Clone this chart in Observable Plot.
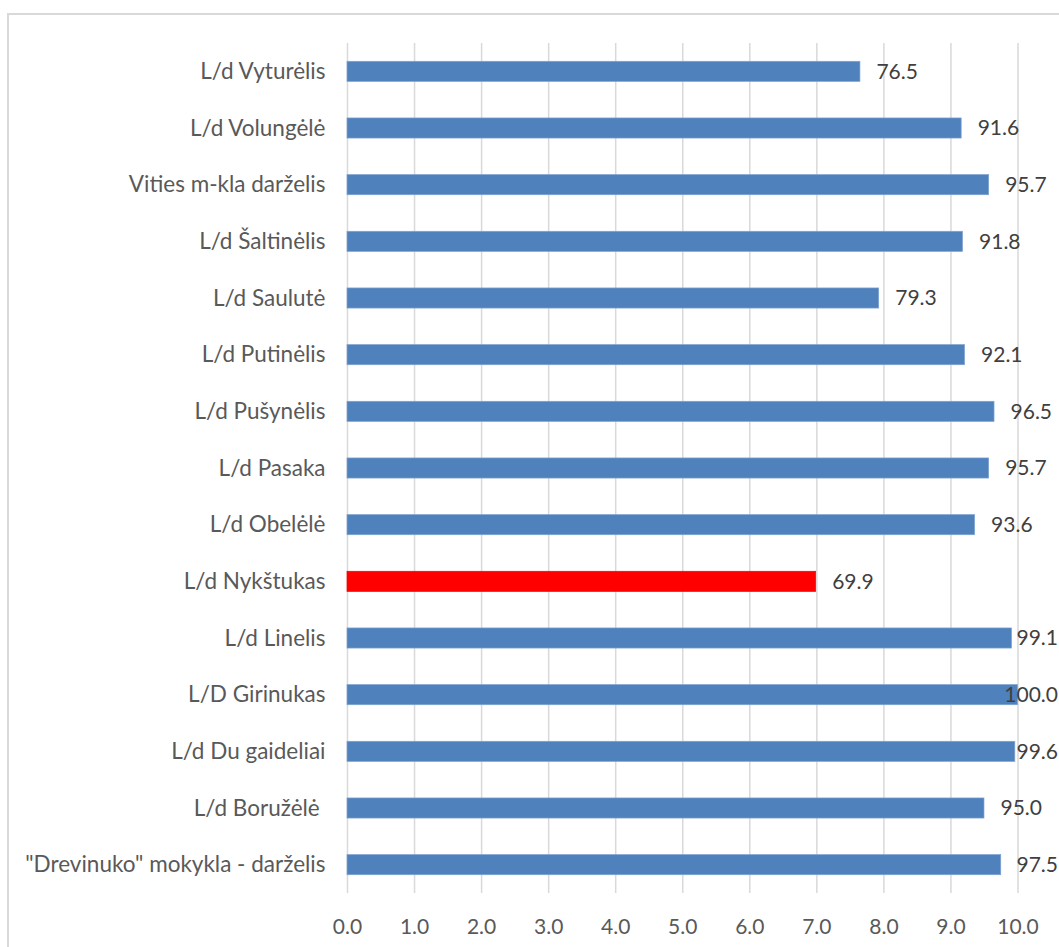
<!DOCTYPE html>
<html>
<head>
<meta charset="utf-8">
<script src="https://cdn.jsdelivr.net/npm/d3@7"></script>
<script src="https://cdn.jsdelivr.net/npm/@observablehq/plot@0.6"></script>
<style>
  html, body { margin: 0; padding: 0; background: #fff; overflow: hidden; }
  #wrap { position: relative; width: 1059px; height: 947px; overflow: hidden; }
  #frame { position: absolute; left: 7px; top: 13px; width: 1200px; height: 1100px;
           border: 2px solid #d9d9d9; box-sizing: border-box; }
  #chart { position: absolute; left: 0; top: 0; }
</style>
</head>
<body>
<div id="wrap"><div id="frame"></div><div id="chart"></div></div>
<script>
const categories = [
  "L/d Vyturėlis",
  "L/d Volungėlė",
  "Vities m-kla darželis",
  "L/d Šaltinėlis",
  "L/d Saulutė",
  "L/d Putinėlis",
  "L/d Pušynėlis",
  "L/d Pasaka",
  "L/d Obelėlė",
  "L/d Nykštukas",
  "L/d Linelis",
  "L/D Girinukas",
  "L/d Du gaideliai",
  "L/d Boružėlė\u00a0",
  "\"Drevinuko\" mokykla - darželis"
];
const values = [76.5, 91.6, 95.7, 91.8, 79.3, 92.1, 96.5, 95.7, 93.6, 69.9, 99.1, 100.0, 99.6, 95.0, 97.5];
const highlighted = ["L/d Nykštukas"];
const xTicks = [0, 1, 2, 3, 4, 5, 6, 7, 8, 9, 10];

const data = categories.map((c, i) => ({category: c, value: values[i], scaled: values[i] / 10}));

const FONT = "Lato, 'Open Sans', sans-serif";
const chart = Plot.plot({
  width: 1059,
  height: 947,
  marginLeft: 347,
  marginRight: 41.5,
  marginTop: 43,
  marginBottom: 54,
  style: {fontFamily: FONT, fontSize: "21px", color: "#595959", background: "transparent", overflow: "visible"},
  x: {domain: [0, 10], ticks: xTicks, tickFormat: d => d.toFixed(1), label: null},
  y: {domain: categories, paddingInner: 0.645, paddingOuter: 0.3225, round: false, label: null},
  marks: [
    Plot.ruleX(xTicks, {stroke: "#d9d9d9", strokeWidth: 1.5}),
    Plot.barX(data, {
      y: "category", x: "scaled",
      fill: d => highlighted.includes(d.category) ? "#ff0000" : "#4f81bd",
      stroke: d => highlighted.includes(d.category) ? "#ff0000" : "#7fa3d0",
      strokeWidth: 0.7
    }),
    Plot.text(data, {
      y: "category", x: "scaled", text: d => d.value.toFixed(1),
      textAnchor: "start", dx: 16, fill: "#404040", fontSize: 21, className: "vlabels"
    }),
    Plot.axisX({ticks: xTicks, tickFormat: d => d.toFixed(1), tickSize: 0, tickPadding: 26, fill: "#595959", fontSize: 21}),
    Plot.axisY({tickSize: 0, tickPadding: 22, fill: "#595959", fontSize: 22.5})
  ]
});
document.getElementById("chart").appendChild(chart);

// keep value labels inside the chart area, as the original does
const svgBox = chart.getBoundingClientRect();
chart.querySelectorAll("g.vlabels text").forEach(t => {
  const b = t.getBoundingClientRect();
  const over = b.right - (svgBox.left + 1058);
  if (over > 0) {
    const cur = parseFloat(t.getAttribute("x")) || 0;
    t.setAttribute("x", String(cur - over));
  }
});
</script>
</body>
</html>
